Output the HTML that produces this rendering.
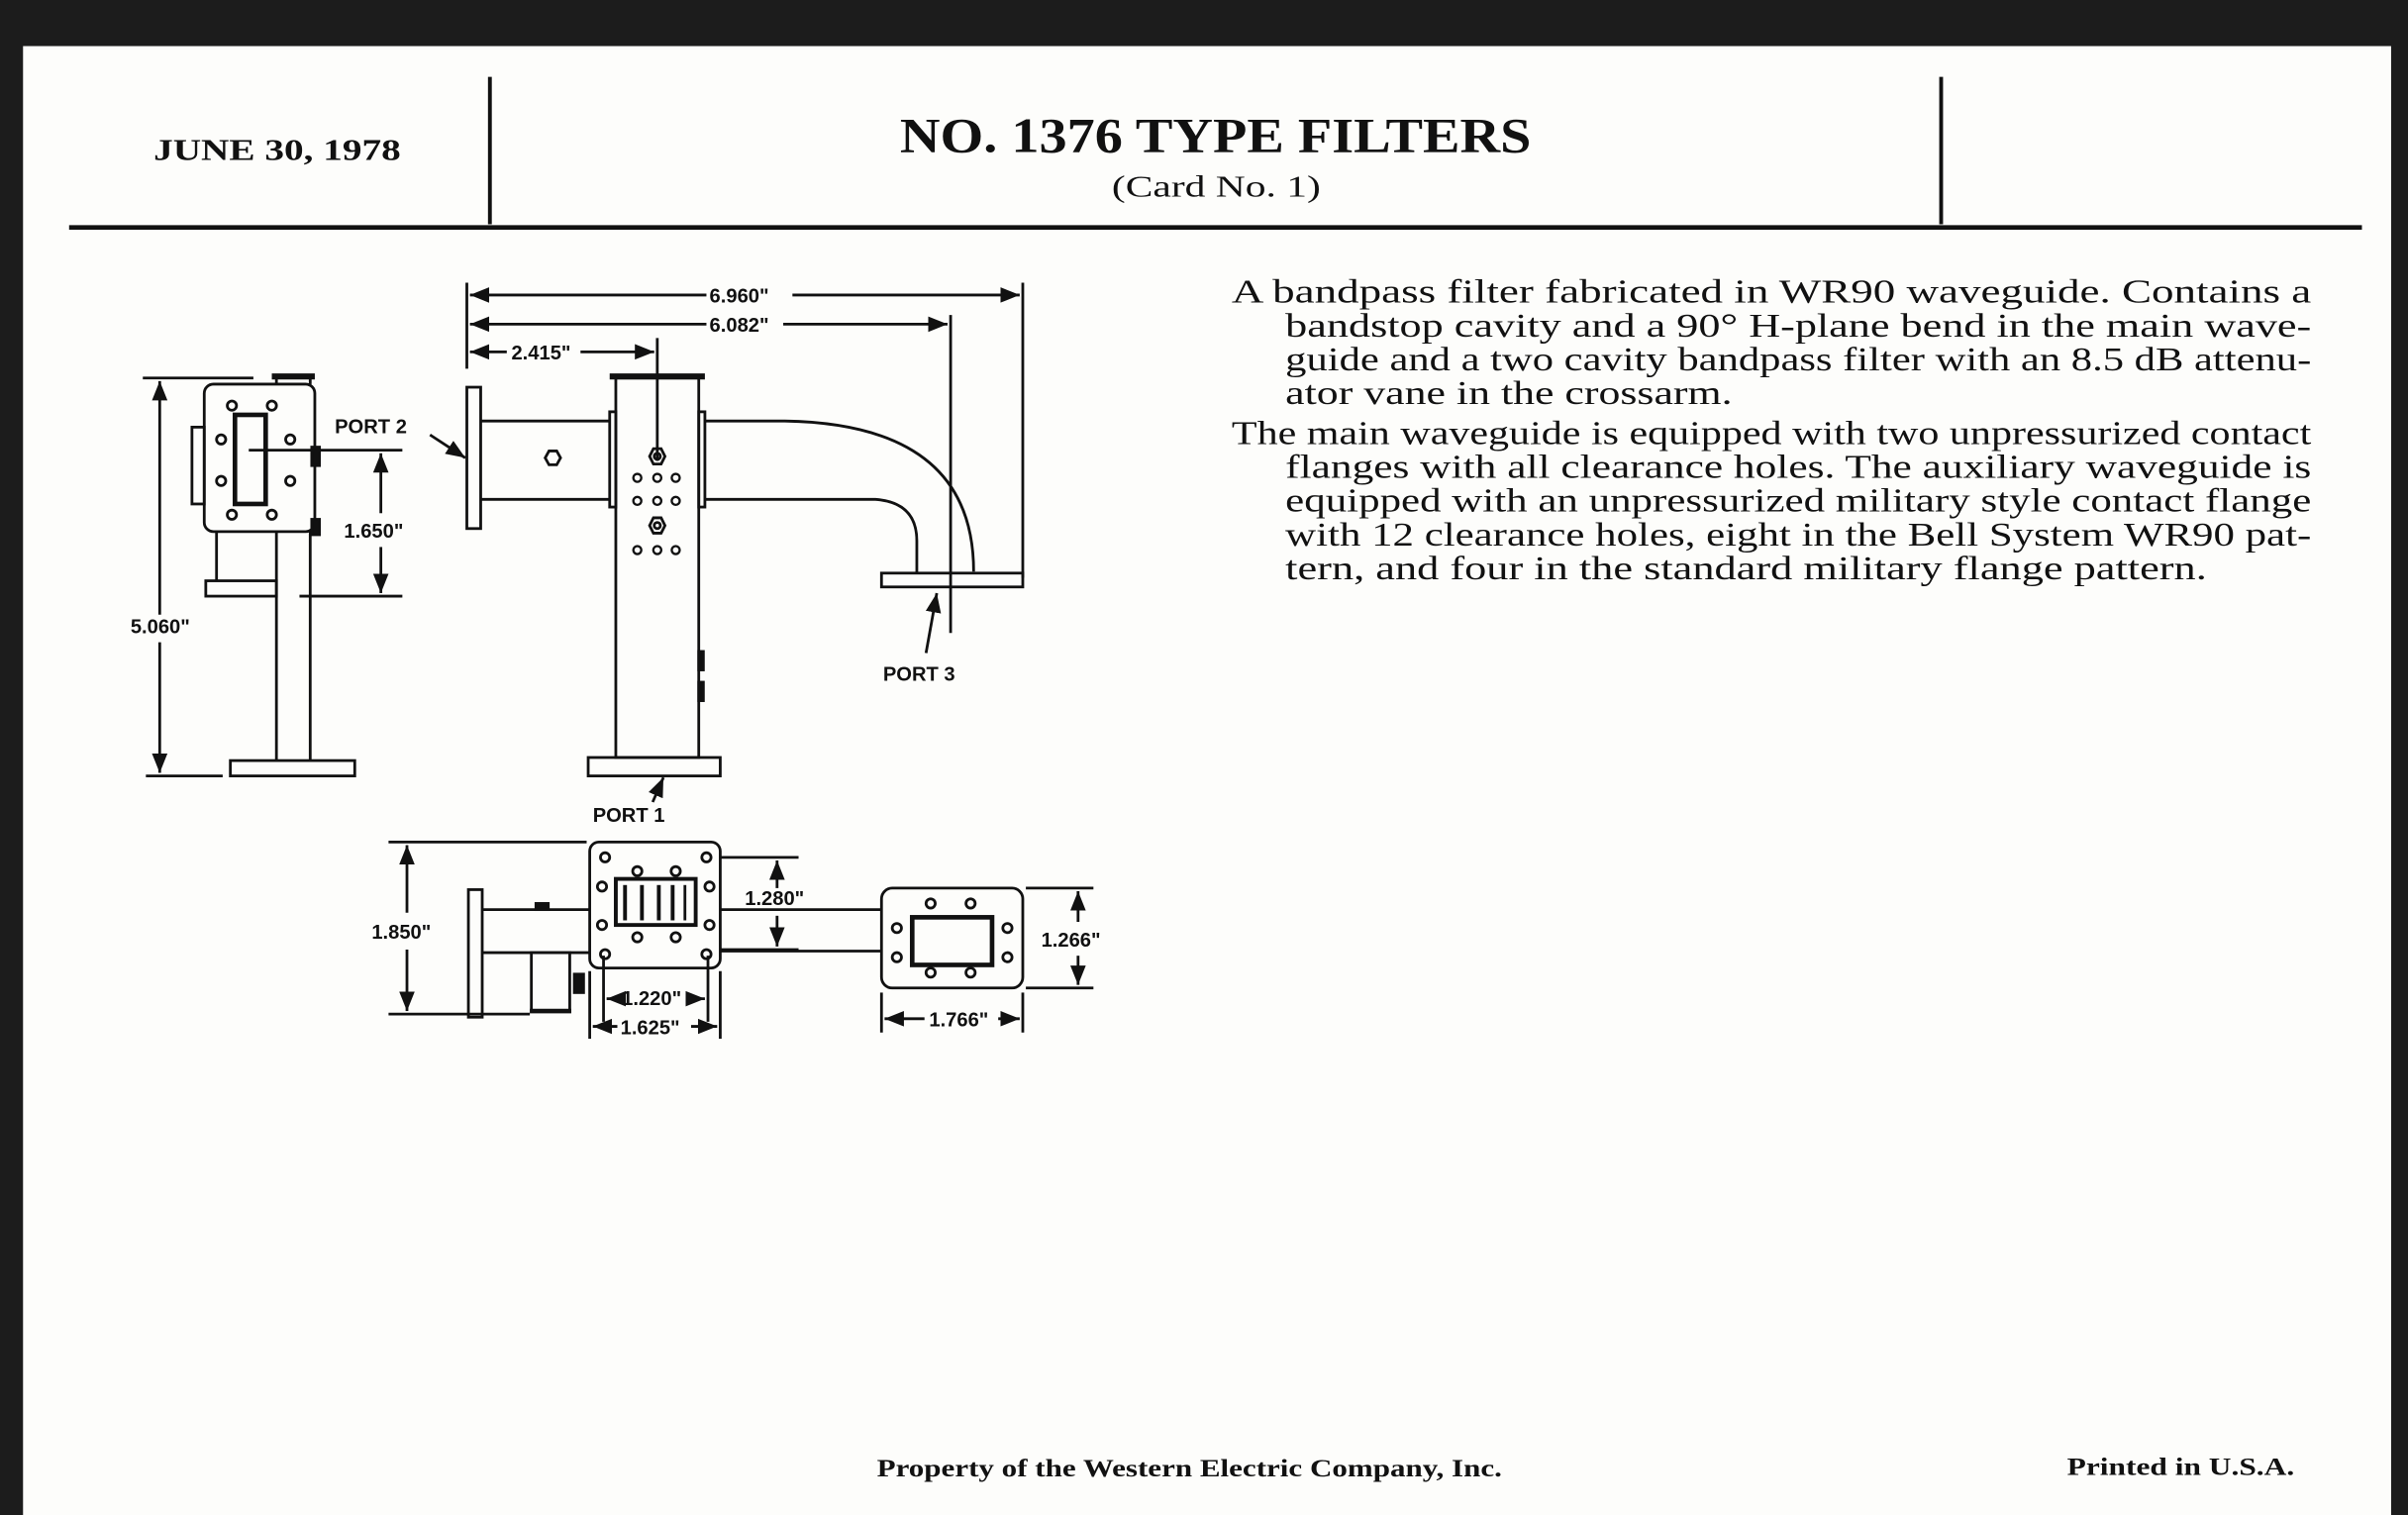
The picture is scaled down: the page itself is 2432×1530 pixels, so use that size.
<!DOCTYPE html>
<html><head><meta charset="utf-8"><style>
html,body{margin:0;padding:0;background:#1a1a1a;}
svg{display:block;}
.s{font-family:"Liberation Serif",serif;fill:#111;}
.d{font-family:"Liberation Sans",sans-serif;font-size:13px;fill:#111;font-weight:bold;}
</style></head><body>
<svg width="2432" height="1530" viewBox="0 0 1568 986" preserveAspectRatio="none" xmlns="http://www.w3.org/2000/svg">
<defs><marker id="a" viewBox="0 0 10 10" refX="10" refY="5" markerWidth="7" markerHeight="7" orient="auto-start-reverse"><path d="M0,1 L10,5 L0,9z" fill="#111"/></marker></defs>
<rect x="0" y="0" width="1568" height="986" fill="#1c1c1c"/>
<rect x="15" y="30" width="1542" height="956" fill="#fdfdfb"/>
<g class="s" font-weight="bold">
<text x="100" y="104" font-size="20" textLength="161" lengthAdjust="spacingAndGlyphs">JUNE 30, 1978</text>
<text x="586" y="99" font-size="32" textLength="411" lengthAdjust="spacingAndGlyphs">NO. 1376 TYPE FILTERS</text>
<text x="724" y="128" font-size="20" font-weight="normal" textLength="136" lengthAdjust="spacingAndGlyphs">(Card No. 1)</text>
<text x="571" y="961" font-size="16" textLength="407" lengthAdjust="spacingAndGlyphs">Property of the Western Electric Company, Inc.</text>
<text x="1346" y="960" font-size="16" textLength="148" lengthAdjust="spacingAndGlyphs">Printed in U.S.A.</text>
</g>
<g stroke="#111" fill="none" stroke-width="2.5">
<line x1="319" y1="50" x2="319" y2="146"/><line x1="1264" y1="50" x2="1264" y2="146"/>
<line x1="45" y1="148" x2="1538" y2="148" stroke-width="3"/>
</g>
<g class="s" font-size="21.5">
<text x="802" y="197" textLength="703" lengthAdjust="spacingAndGlyphs">A bandpass filter fabricated in WR90 waveguide. Contains a</text>
<text x="837" y="219" textLength="668" lengthAdjust="spacingAndGlyphs">bandstop cavity and a 90° H-plane bend in the main wave-</text>
<text x="837" y="241" textLength="668" lengthAdjust="spacingAndGlyphs">guide and a two cavity bandpass filter with an 8.5 dB attenu-</text>
<text x="837" y="263" textLength="291" lengthAdjust="spacingAndGlyphs">ator vane in the crossarm.</text>
<text x="802" y="289" textLength="703" lengthAdjust="spacingAndGlyphs">The main waveguide is equipped with two unpressurized contact</text>
<text x="837" y="311" textLength="668" lengthAdjust="spacingAndGlyphs">flanges with all clearance holes. The auxiliary waveguide is</text>
<text x="837" y="333" textLength="668" lengthAdjust="spacingAndGlyphs">equipped with an unpressurized military style contact flange</text>
<text x="837" y="355" textLength="668" lengthAdjust="spacingAndGlyphs">with 12 clearance holes, eight in the Bell System WR90 pat-</text>
<text x="837" y="377" textLength="600" lengthAdjust="spacingAndGlyphs">tern, and four in the standard military flange pattern.</text>
</g>
<g stroke="#111" fill="none" stroke-width="1.8">
<line x1="93" y1="246" x2="165" y2="246"/><line x1="95" y1="505" x2="145" y2="505"/>
<line x1="104" y1="248" x2="104" y2="400" marker-start="url(#a)"/><line x1="104" y1="418" x2="104" y2="503" marker-end="url(#a)"/>
<rect x="133" y="250" width="72" height="96" rx="6"/>
<rect x="153" y="270" width="20" height="58" stroke-width="3"/>
<rect x="125" y="278" width="8" height="50"/>
<line x1="177" y1="245" x2="205" y2="245" stroke-width="4"/>
<line x1="180" y1="246" x2="180" y2="250"/><line x1="202" y1="246" x2="202" y2="250"/>
<line x1="180" y1="346" x2="180" y2="495"/><line x1="202" y1="346" x2="202" y2="495"/>
<line x1="141" y1="346" x2="141" y2="378"/>
<rect x="134" y="378" width="46" height="10"/>
<rect x="150" y="495" width="81" height="10"/>
<circle cx="151" cy="264" r="3"/><circle cx="177" cy="264" r="3"/><circle cx="144" cy="286" r="3"/><circle cx="189" cy="286" r="3"/><circle cx="144" cy="313" r="3"/><circle cx="189" cy="313" r="3"/><circle cx="151" cy="335" r="3"/><circle cx="177" cy="335" r="3"/>
<rect x="203" y="291" width="5" height="12" fill="#111"/><rect x="203" y="338" width="5" height="10" fill="#111"/>
<line x1="162" y1="293" x2="262" y2="293"/><line x1="195" y1="388" x2="262" y2="388"/>
<line x1="248" y1="295" x2="248" y2="334" marker-start="url(#a)"/><line x1="248" y1="356" x2="248" y2="386" marker-end="url(#a)"/>
<line x1="280" y1="283" x2="303" y2="298" marker-end="url(#a)"/>
<line x1="304" y1="184" x2="304" y2="240"/><line x1="666" y1="184" x2="666" y2="376"/><line x1="619" y1="205" x2="619" y2="412"/><line x1="428" y1="220" x2="428" y2="300"/>
<line x1="306" y1="192" x2="460" y2="192" marker-start="url(#a)"/><line x1="516" y1="192" x2="664" y2="192" marker-end="url(#a)"/>
<line x1="306" y1="211" x2="460" y2="211" marker-start="url(#a)"/><line x1="510" y1="211" x2="617" y2="211" marker-end="url(#a)"/>
<line x1="306" y1="229" x2="330" y2="229" marker-start="url(#a)"/><line x1="378" y1="229" x2="426" y2="229" marker-end="url(#a)"/>
<rect x="304" y="252" width="9" height="92"/>
<line x1="313" y1="274" x2="397" y2="274"/><line x1="313" y1="325" x2="397" y2="325"/>
<polygon points="355,298 357.5,293.5 362.5,293.5 365,298 362.5,302.5 357.5,302.5"/>
<rect x="397" y="268" width="4" height="62"/><rect x="455" y="268" width="4" height="62"/>
<rect x="401" y="246" width="54" height="247"/>
<line x1="397" y1="245" x2="459" y2="245" stroke-width="4"/>
<polygon points="423,297 425.5,292 430.5,292 433,297 430.5,302 425.5,302"/><circle cx="428" cy="297" r="2"/>
<polygon points="423,342 425.5,337 430.5,337 433,342 430.5,347 425.5,347"/><circle cx="428" cy="342" r="2"/>
<g stroke-width="1.5"><circle cx="415" cy="311" r="2.6"/><circle cx="428" cy="311" r="2.6"/><circle cx="440" cy="311" r="2.6"/><circle cx="415" cy="326" r="2.6"/><circle cx="428" cy="326" r="2.6"/><circle cx="440" cy="326" r="2.6"/><circle cx="415" cy="358" r="2.6"/><circle cx="428" cy="358" r="2.6"/><circle cx="440" cy="358" r="2.6"/></g>
<path d="M459,274 L511,274 Q634,276 634,372"/>
<path d="M459,325 L570,325 Q597,327 597,352 L597,373"/>
<rect x="574" y="373" width="92" height="9"/>
<rect x="455" y="424" width="3" height="12" fill="#111"/><rect x="455" y="444" width="3" height="12" fill="#111"/>
<line x1="603" y1="425" x2="610" y2="386" marker-end="url(#a)"/>
<rect x="383" y="493" width="86" height="12"/>
<line x1="425" y1="522" x2="432" y2="506" marker-end="url(#a)"/>
<line x1="253" y1="548" x2="382" y2="548"/><line x1="253" y1="660" x2="345" y2="660"/>
<line x1="265" y1="550" x2="265" y2="594" marker-start="url(#a)"/><line x1="265" y1="618" x2="265" y2="658" marker-end="url(#a)"/>
<rect x="305" y="579" width="9" height="83"/>
<line x1="314" y1="592" x2="384" y2="592"/><line x1="314" y1="620" x2="384" y2="620"/>
<rect x="349" y="588" width="8" height="4" fill="#111"/>
<rect x="346" y="620" width="25" height="38"/><line x1="345" y1="658" x2="372" y2="658" stroke-width="3"/>
<rect x="374" y="634" width="6" height="12" fill="#111"/>
<rect x="384" y="548" width="85" height="82" rx="6"/>
<rect x="401" y="572" width="52" height="30" stroke-width="2.5"/>
<line x1="407" y1="576" x2="407" y2="599" stroke-width="2.5"/><line x1="418" y1="576" x2="418" y2="599" stroke-width="2.5"/><line x1="429" y1="576" x2="429" y2="599" stroke-width="2.5"/><line x1="438" y1="576" x2="438" y2="599" stroke-width="2.5"/><line x1="446" y1="576" x2="446" y2="599"/>
<circle cx="394" cy="558" r="3"/><circle cx="460" cy="558" r="3"/><circle cx="415" cy="567" r="3"/><circle cx="440" cy="567" r="3"/><circle cx="392" cy="577" r="3"/><circle cx="462" cy="577" r="3"/><circle cx="392" cy="602" r="3"/><circle cx="462" cy="602" r="3"/><circle cx="415" cy="610" r="3"/><circle cx="440" cy="610" r="3"/><circle cx="394" cy="621" r="3"/><circle cx="460" cy="621" r="3"/>
<line x1="469" y1="592" x2="574" y2="592"/><line x1="469" y1="619" x2="574" y2="619"/>
<line x1="469" y1="558" x2="520" y2="558"/><line x1="469" y1="618" x2="520" y2="618"/>
<line x1="506" y1="560" x2="506" y2="578" marker-start="url(#a)"/><line x1="506" y1="596" x2="506" y2="616" marker-end="url(#a)"/>
<rect x="574" y="578" width="92" height="65" rx="7"/>
<rect x="594" y="597" width="52" height="31" stroke-width="3"/>
<circle cx="606" cy="588" r="3"/><circle cx="632" cy="588" r="3"/><circle cx="584" cy="604" r="3"/><circle cx="656" cy="604" r="3"/><circle cx="584" cy="623" r="3"/><circle cx="656" cy="623" r="3"/><circle cx="606" cy="633" r="3"/><circle cx="632" cy="633" r="3"/>
<line x1="668" y1="578" x2="712" y2="578"/><line x1="668" y1="643" x2="712" y2="643"/>
<line x1="702" y1="580" x2="702" y2="600" marker-start="url(#a)"/><line x1="702" y1="622" x2="702" y2="641" marker-end="url(#a)"/>
<line x1="393" y1="622" x2="393" y2="665"/><line x1="461" y1="622" x2="461" y2="665"/>
<line x1="384" y1="632" x2="384" y2="676"/><line x1="469" y1="632" x2="469" y2="676"/>
<line x1="395" y1="650" x2="404" y2="650" marker-start="url(#a)"/><line x1="451" y1="650" x2="459" y2="650" marker-end="url(#a)"/>
<line x1="386" y1="668" x2="402" y2="668" marker-start="url(#a)"/><line x1="450" y1="668" x2="467" y2="668" marker-end="url(#a)"/>
<line x1="574" y1="646" x2="574" y2="672"/><line x1="666" y1="646" x2="666" y2="672"/>
<line x1="576" y1="663" x2="602" y2="663" marker-start="url(#a)"/><line x1="650" y1="663" x2="664" y2="663" marker-end="url(#a)"/>
</g>
<g class="d">
<text x="85" y="412">5.060"</text>
<text x="224" y="350">1.650"</text>
<text x="218" y="282">PORT 2</text>
<text x="462" y="197">6.960"</text>
<text x="462" y="216">6.082"</text>
<text x="333" y="234">2.415"</text>
<text x="575" y="443">PORT 3</text>
<text x="386" y="535">PORT 1</text>
<text x="242" y="611">1.850"</text>
<text x="485" y="589">1.280"</text>
<text x="678" y="616">1.266"</text>
<text x="405" y="654">1.220"</text>
<text x="404" y="673">1.625"</text>
<text x="605" y="668">1.766"</text>
</g>
</svg>
</body></html>
